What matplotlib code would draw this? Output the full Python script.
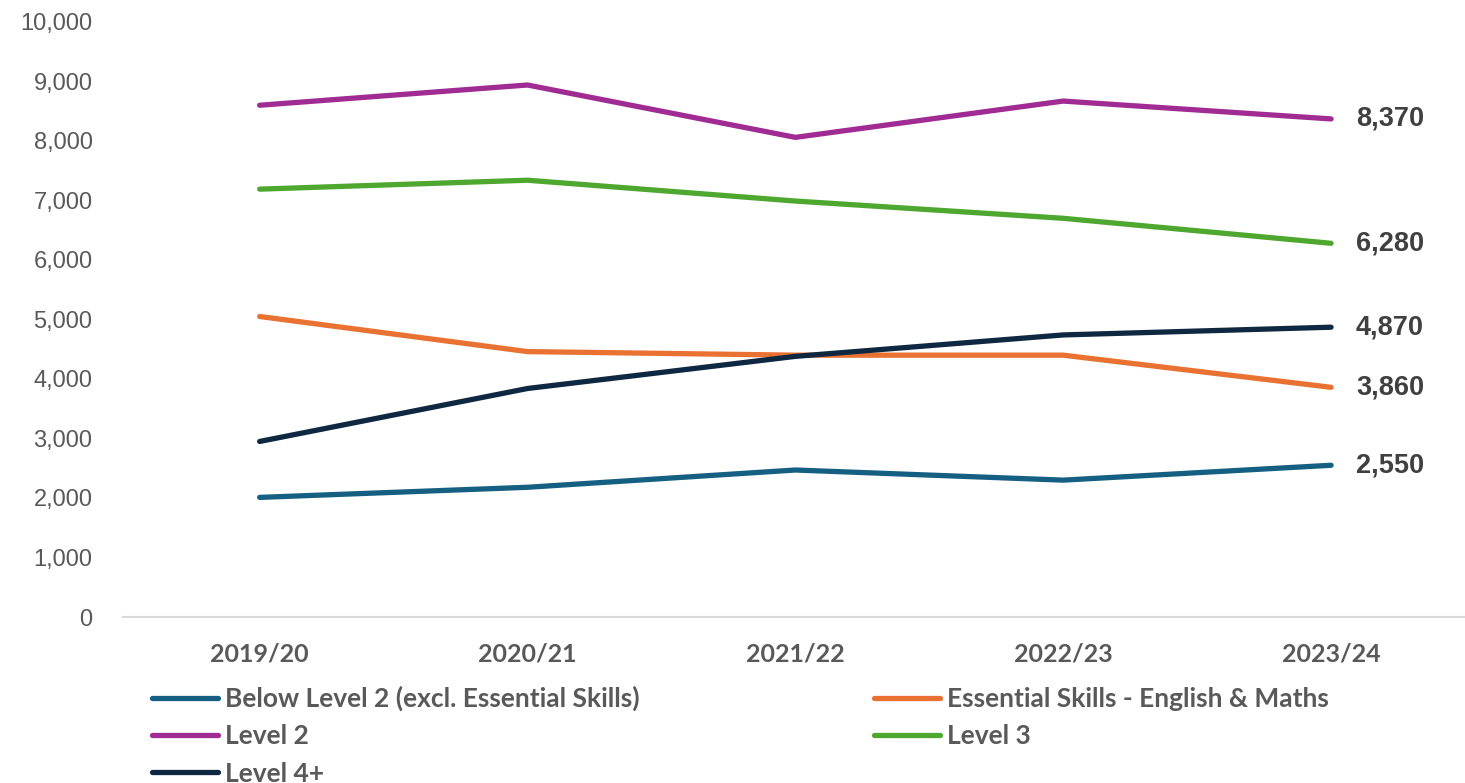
import matplotlib
matplotlib.use("Agg")
import matplotlib.pyplot as plt
from matplotlib.ticker import FuncFormatter

years = ["2019/20", "2020/21", "2021/22", "2022/23", "2023/24"]
below_l2 = [2010, 2180, 2470, 2300, 2550]
essential = [5050, 4460, 4400, 4400, 3860]
level2 = [8600, 8940, 8060, 8670, 8370]
level3 = [7190, 7340, 6990, 6700, 6280]
level4 = [2950, 3840, 4380, 4740, 4870]

names = ["Below Level 2 (excl. Essential Skills)", "Essential Skills - English & Maths",
         "Level 2", "Level 3", "Level 4+"]
colors = ["#156082", "#E97132", "#A02B93", "#4EA72E", "#0E2841"]
series = [below_l2, essential, level2, level3, level4]

fig = plt.figure(figsize=(14.65, 7.83), dpi=100)
ax = fig.add_axes([0.084, 0.212, 0.916, 0.76])

x = list(range(len(years)))
lines = []
for vals, c, n in zip(series, colors, names):
    ln, = ax.plot(x, vals, color=c, lw=3.8, solid_capstyle="round", label=n)
    lines.append(ln)
    ax.annotate(f"{vals[-1]:,}", (x[-1], vals[-1]), xytext=(18, 0), textcoords="offset points",
                va="center", ha="left", fontsize=19.5, fontweight="bold", color="#404040",
                family="Liberation Sans")

ax.set_xlim(-0.51, 4.5)
ax.set_ylim(0, 10000)
ax.set_yticks(range(0, 10001, 1000))
ax.yaxis.set_major_formatter(FuncFormatter(lambda v, p: f"{int(v):,}"))
ax.set_xticks(x)
ax.set_xticklabels(years, fontsize=18, fontweight="bold", color="#595959", family="Lato")
for t in ax.get_yticklabels():
    t.set_fontsize(17)
    t.set_color("#595959")
    t.set_family("Liberation Sans")
ax.tick_params(axis="both", length=0)
ax.tick_params(axis="y", pad=22)
ax.tick_params(axis="x", pad=18)
for s in ["top", "right", "left"]:
    ax.spines[s].set_visible(False)
ax.spines["bottom"].set_color("#D9D9D9")
ax.spines["bottom"].set_linewidth(1.5)

order = [0, 2, 4, 1, 3]
leg = fig.legend([lines[i] for i in order], [names[i] for i in order], ncol=2,
                 loc="upper left", bbox_to_anchor=(0.1038, 0.124), frameon=False,
                 prop={"family": "Lato", "size": 19, "weight": "bold"},
                 handlelength=2.5, handletextpad=0.25, columnspacing=8.9,
                 labelspacing=0.5, borderaxespad=0, borderpad=0)
for t in leg.get_texts():
    t.set_color("#595959")

fig.savefig("out.png", dpi=100)
